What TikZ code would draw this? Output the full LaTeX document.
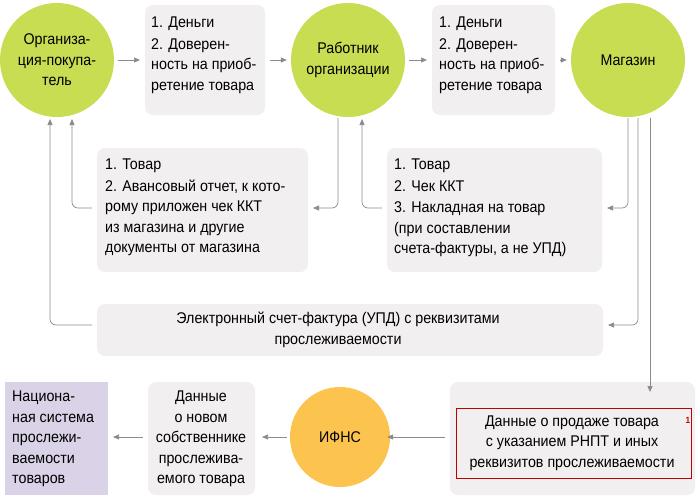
\documentclass[tikz,border=0pt]{standalone}
\usepackage{fontspec}
\setmainfont{Liberation Sans}[FakeStretch=0.92]
\usetikzlibrary{arrows.meta}
\definecolor{grn}{HTML}{C9DD52}
\definecolor{org}{HTML}{FCC44E}
\definecolor{bx}{HTML}{F1EFEF}
\definecolor{pur}{HTML}{DAD2E7}
\definecolor{ln}{HTML}{8A8A8A}
\begin{document}
\begin{tikzpicture}[x=1pt,y=-1pt,
  every node/.style={font=\fontsize{15.5}{20.5}\selectfont,inner sep=0},
  circ/.style={circle,fill=grn,minimum size=114pt,align=center},
  bxs/.style={fill=bx,rounded corners=8pt},
  conn/.style={draw=ln,line width=0.7pt,rounded corners=6pt,-{Triangle[length=6pt,width=5pt]}}]
\useasboundingbox (0,0) rectangle (700,501);
% circles
\node[circ] (c1) at (57,60) {Организа-\\ция-покупа-\\тель};
\node[circ] (c2) at (348,60) {Работник\\организации};
\node[circ] (c3) at (628,60) {Магазин};
\node[circ,fill=org,minimum size=100pt] (c4) at (340,437) {ИФНС};
% boxes
\fill[bxs] (145,5) rectangle (265,115);
\node[align=left,anchor=north west] (b1) at (151,17) {1. Деньги\\[1pt]2. Доверен-\\ность на приоб-\\ретение товара};
\coordinate (b1l) at (145,60); \coordinate (b1r) at (265,60);
\fill[bxs] (432,5) rectangle (555,115);
\node[align=left,anchor=north west] (b2) at (439,17) {1. Деньги\\[1pt]2. Доверен-\\ность на приоб-\\ретение товара};
\coordinate (b2l) at (432,60); \coordinate (b2r) at (555,60);
\fill[bxs] (97,148) rectangle (308,272);
\node[align=left,anchor=north west] (b3) at (105,159) {1. Товар\\[1pt]2. Авансовый отчет, к кото-\\рому приложен чек ККТ\\из магазина и другие\\документы от магазина};
\coordinate (b3l) at (97,208); \coordinate (b3r) at (308,208);
\fill[bxs] (387,148) rectangle (602,272);
\node[align=left,anchor=north west] (b4) at (394,159) {1. Товар\\[1pt]2. Чек ККТ\\[1pt]3. Накладная на товар\\(при составлении\\счета-фактуры, а не УПД)};
\coordinate (b4l) at (387,208); \coordinate (b4r) at (602,208);
\fill[bxs] (97,304) rectangle (603,356);
\node[align=center] (b5) at (338,330) {Электронный счет-фактура (УПД) с реквизитами\\прослеживаемости};
\coordinate (b5l) at (97,325); \coordinate (b5r) at (603,325);
\fill[bxs] (450,382) rectangle (695,495);
\draw[red!75!black,line width=0.5pt] (456,408) rectangle (691,478);
\node[align=center] (b6) at (572,443) {Данные о продаже товара\\с указанием РНПТ и иных\\реквизитов прослеживаемости};
\node[text=red!80!black,font=\fontsize{9}{9}\selectfont\bfseries] (n1) at (688,420) {1};
\coordinate (b6l) at (450,437); \coordinate (b6t) at (650,382);
\fill[bxs] (148,382) rectangle (255,495);
\node[align=center] (b7) at (201,439) {Данные\\о новом\\собственнике\\прослежива-\\емого товара};
\coordinate (b7l) at (148,437); \coordinate (b7r) at (255,437);
\fill[pur] (5,382) rectangle (108,495);
\node[align=left,anchor=west] (b8) at (12,439) {Национа-\\ная система\\прослежи-\\ваемости\\товаров};
\coordinate (b8r) at (108,437);
% connectors
\draw[conn] (c1.east) ++(4,0) -- ([xshift=-5pt]b1l);
\draw[conn] ([xshift=5pt]b1r) -- ([xshift=-4pt]c2.west);
\draw[conn] (c2.east) ++(4,0) -- ([xshift=-5pt]b2l);
\draw[conn] ([xshift=5pt]b2r) -- ([xshift=-4pt]c3.west);
\draw[conn] (628,118) |- ([xshift=5pt]b4r);
\draw[conn] (638,118) |- ([xshift=5pt]b5r);
\draw[conn] (650,118) -- ([yshift=-10pt]b6t);
\draw[conn] ([xshift=-5pt]b4l) -| (362,119);
\draw[conn] (338,118) |- ([xshift=5pt]b3r);
\draw[conn] ([xshift=-5pt]b3l) -| (72,119);
\draw[conn] ([xshift=-5pt]b5l) -| (50,119);
\draw[conn] ([xshift=-5pt]b6l) -- ([xshift=-3pt]c4.east);
\draw[conn] ([xshift=-3pt]c4.west) -- ([xshift=7pt]b7r);
\draw[conn] ([xshift=-5pt]b7l) -- ([xshift=5pt]b8r);
\end{tikzpicture}
\end{document}
